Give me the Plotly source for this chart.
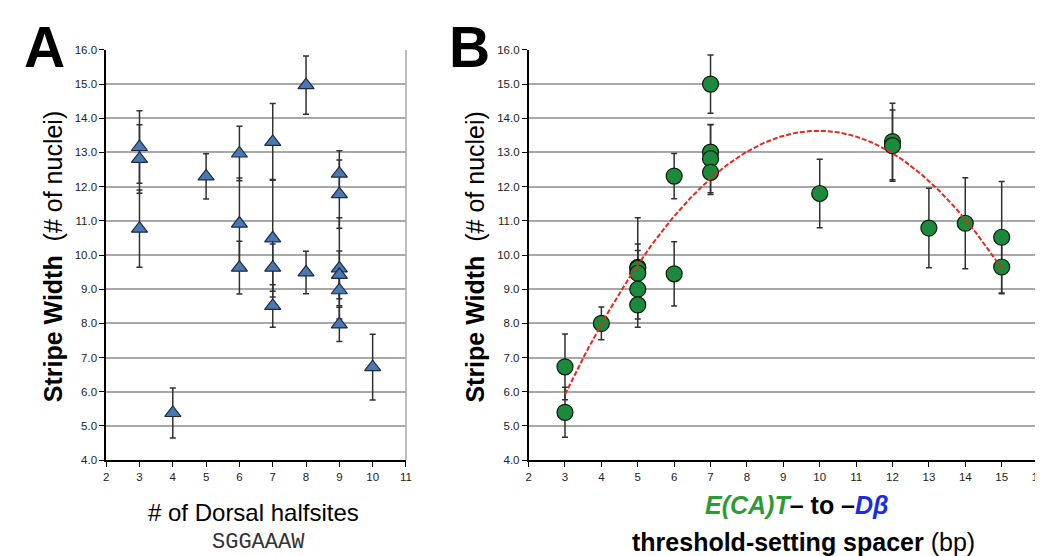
import numpy as np
import plotly.graph_objects as go

# ---------------- data ----------------
# Panel A: stripe width vs number of Dorsal halfsites
a_x = [3, 3, 3, 4, 5, 6, 6, 6, 7, 7, 7, 7, 8, 8, 9, 9, 9, 9, 9, 9, 10]
a_y = [13.16, 12.81, 10.77, 5.38, 12.30, 12.97, 10.92, 9.63, 13.31, 10.49, 9.63, 8.51,
       14.97, 9.49, 12.38, 11.78, 9.61, 9.42, 8.97, 7.97, 6.72]
a_err = [1.06, 1.00, 1.13, 0.73, 0.66, 0.80, 1.33, 0.77, 1.12, 1.72, 0.69, 0.62,
         0.85, 0.62, 0.67, 1.00, 1.48, 0.70, 0.45, 0.50, 0.96]

# Panel B: stripe width vs threshold-setting spacer (bp)
b_x = [3, 3, 4, 5, 5, 5, 5, 5, 6, 6, 7, 7, 7, 7, 10, 12, 12, 13, 14, 15, 15]
b_y = [6.73, 5.40, 8.00, 9.64, 9.61, 9.47, 9.00, 8.54, 12.31, 9.45, 15.00, 13.01, 12.82,
       12.42, 11.80, 13.32, 13.20, 10.79, 10.93, 10.52, 9.65]
b_err = [0.96, 0.73, 0.48, 0.68, 1.48, 0.66, 0.45, 0.65, 0.66, 0.94, 0.85, 0.80, 1.00,
         0.65, 1.00, 1.12, 1.04, 1.16, 1.33, 1.63, 0.78]

y_ticks = [4, 5, 6, 7, 8, 9, 10, 11, 12, 13, 14, 15, 16]
a_xticks = [2, 3, 4, 5, 6, 7, 8, 9, 10, 11]
b_xticks = list(range(2, 17))

# second-order polynomial trendline (least squares, like a spreadsheet trendline)
coef = np.polyfit(b_x, b_y, 2)
fit_x = np.linspace(min(b_x), max(b_x), 200)
fit_y = np.polyval(coef, fit_x)

# ---------------- layout helpers ----------------
W, H = 1043, 556
def px(x):
    return x / W
def py(y):
    return 1 - y / H

FONT = "Liberation Sans"
GRID = "#A8A8A8"

fig = go.Figure()

fig.add_trace(go.Scatter(
    x=a_x, y=a_y, mode="markers", xaxis="x", yaxis="y",
    marker=dict(symbol="triangle-up", size=14, color="#4A78B0",
                line=dict(color="#1C2A44", width=1.2)),
    error_y=dict(type="data", array=a_err, visible=True, color="#303030",
                 thickness=1.5, width=3),
    showlegend=False, hoverinfo="x+y"))

fig.add_trace(go.Scatter(
    x=b_x, y=b_y, mode="markers", xaxis="x2", yaxis="y2",
    marker=dict(symbol="circle", size=16, color="#1B8A3C",
                line=dict(color="#0A1A0A", width=1.2)),
    error_y=dict(type="data", array=b_err, visible=True, color="#303030",
                 thickness=1.5, width=3),
    showlegend=False, hoverinfo="x+y"))

fig.add_trace(go.Scatter(
    x=fit_x, y=fit_y, mode="lines", xaxis="x2", yaxis="y2",
    line=dict(color="#E8281E", width=2, dash="5px,2px"),
    showlegend=False, hoverinfo="skip"))

ydom = [py(456), py(36.7)]
axis_common = dict(showline=True, linecolor="black", linewidth=1.5, ticks="outside",
                   ticklen=5, tickcolor="black", tickwidth=1,
                   tickfont=dict(family=FONT, size=11.5, color="#222"), zeroline=False)

fig.update_layout(
    width=W, height=H, margin=dict(l=0, r=0, t=0, b=0),
    paper_bgcolor="white", plot_bgcolor="white",
    xaxis=dict(domain=[px(96), px(398.4)], range=[2, 11], tickvals=a_xticks,
               showgrid=False, anchor="y", **axis_common),
    yaxis=dict(domain=ydom, range=[4, 16], tickvals=y_ticks, tickformat=".1f",
               showgrid=True, gridcolor=GRID, gridwidth=1.5, anchor="x", **axis_common),
    xaxis2=dict(domain=[px(522.1), px(1036)], range=[2, 16], tickvals=b_xticks,
                showgrid=False, anchor="y2", **axis_common),
    yaxis2=dict(domain=ydom, range=[4, 16], tickvals=y_ticks, tickformat=".1f",
                showgrid=True, gridcolor=GRID, gridwidth=1.5, anchor="x2", **axis_common),
)

# right border of each plot area
for xr, yr in (("x domain", "y domain"), ("x2 domain", "y2 domain")):
    fig.add_shape(type="line", xref=xr, yref=yr, x0=1, x1=1, y0=0, y1=1,
                  line=dict(color=GRID, width=1.5), layer="below")

def ann(text, x, y, size, angle=0, family=FONT, color="black"):
    fig.add_annotation(text=text, x=px(x), y=py(y), xref="paper", yref="paper",
                       showarrow=False, textangle=angle, xanchor="center", yanchor="middle",
                       font=dict(family=family, size=size, color=color))

# panel letters
ann("<b>A</b>", 34, 34, 57)
ann("<b>B</b>", 462, 34, 57)

# y-axis titles
ytitle = "<b>Stripe Width</b>\u00a0\u00a0(# of nuclei)"
ann(ytitle, 42, 248, 25, angle=-90)
ann(ytitle, 468, 248, 25, angle=-90)

# x-axis titles
ann("# of Dorsal halfsites", 245, 510, 24)
ann("SGGAAAW", 250, 540, 22, family="Liberation Mono", color="#333")
ann("<b><i><span style='color:#2E9A35'>E(CA)T</span></i>\u2013 to \u2013"
    "<i><span style='color:#1A2BE0'>D\u03b2</span></i></b>", 793, 502, 25)
ann("<b>threshold-setting spacer</b> (bp)", 799, 540, 25)

fig.write_html("out.html")
